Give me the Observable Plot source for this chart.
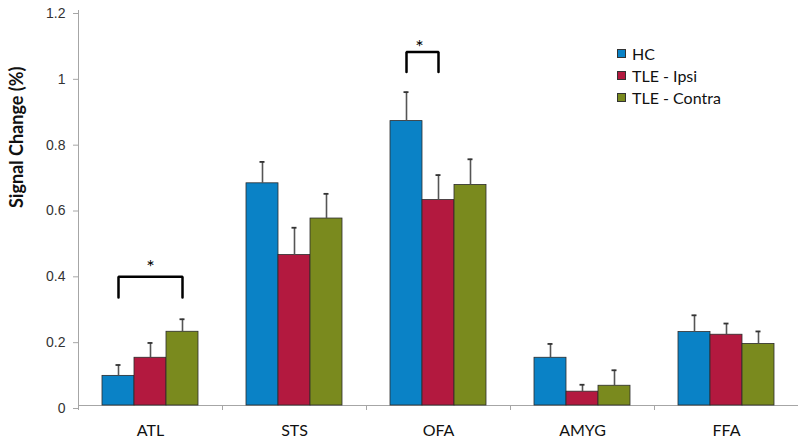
<!DOCTYPE html>
<html>
<head>
<meta charset="utf-8">
<script src="https://cdn.jsdelivr.net/npm/d3@7"></script>
<script src="https://cdn.jsdelivr.net/npm/@observablehq/plot@0.6"></script>
<style>
  html, body { margin: 0; padding: 0; background: #fff; }
  #wrap { position: relative; width: 800px; height: 441px; }
  #legend { position: absolute; left: 617px; top: 42px; font-family: Lato, "Open Sans", sans-serif; font-size: 16px; color: #111; }
  #legend .item { display: flex; align-items: center; height: 22px; }
  #legend .sw { width: 7px; height: 7px; border: 1px solid #333; margin-right: 6px; }
</style>
</head>
<body>
<div id="wrap"><div id="legend"></div></div>
<script>
const categories = ["ATL", "STS", "OFA", "AMYG", "FFA"];
const series = ["HC", "TLE - Ipsi", "TLE - Contra"];
const hcValues = [0.090, 0.675, 0.864, 0.145, 0.223];
const ipsiValues = [0.145, 0.457, 0.624, 0.042, 0.215];
const contraValues = [0.224, 0.568, 0.670, 0.060, 0.187];
const hcErrors = [0.033, 0.065, 0.088, 0.042, 0.051];
const ipsiErrors = [0.045, 0.083, 0.076, 0.021, 0.034];
const contraErrors = [0.038, 0.075, 0.078, 0.047, 0.038];
const yTicks = [0, 0.2, 0.4, 0.6, 0.8, 1, 1.2];
const yTickLabels = ["0", "0.2", "0.4", "0.6", "0.8", "1", "1.2"];
const seriesColors = ["#0a82c6", "#b3193f", "#7a8a1e"];
const yTitle = "Signal Change (%)";

// significance brackets
const bracketCategory = ["ATL", "OFA"];
const bracketFrom = ["HC", "HC"];
const bracketTo = ["TLE - Contra", "TLE - Ipsi"];
const bracketTop = [0.391, 1.074];
const bracketBottom = [0.328, 1.013];
const starCategory = ["ATL", "OFA"];
const starSeries = ["TLE - Ipsi", "HC"];
const starY = [0.420, 1.087];

const valueSets = [hcValues, ipsiValues, contraValues];
const errorSets = [hcErrors, ipsiErrors, contraErrors];
const rows = [];
categories.forEach((c, i) => series.forEach((s, j) => rows.push({cat: c, s, v: valueSets[j][i], e: errorSets[j][i]})));

const bracketPts = [];
bracketCategory.forEach((c, i) => {
  bracketPts.push({id: i, cat: c, s: bracketFrom[i], y: bracketBottom[i]});
  bracketPts.push({id: i, cat: c, s: bracketFrom[i], y: bracketTop[i]});
  bracketPts.push({id: i, cat: c, s: bracketTo[i], y: bracketTop[i]});
  bracketPts.push({id: i, cat: c, s: bracketTo[i], y: bracketBottom[i]});
});
const stars = starCategory.map((c, i) => ({cat: c, s: starSeries[i], y: starY[i]}));

const W = 800, H = 441, mt = 10, mb = 36, ml = 76, mr = 0;
const innerH = H - mt - mb;
const axisGray = "#a6a6a6";

const plot = Plot.plot({
  width: W, height: H,
  marginLeft: ml, marginRight: mr, marginTop: mt, marginBottom: mb,
  style: {fontFamily: "Lato, 'Open Sans', sans-serif", background: "#fff"},
  fx: {domain: categories, padding: 0, label: null},
  x: {domain: series, paddingInner: 0, paddingOuter: 0.745, axis: null},
  y: {domain: [0, 1.2], label: null},
  color: {domain: series, range: seriesColors},
  marks: [
    Plot.frame({anchor: "left", facetAnchor: "left", stroke: axisGray, insetBottom: -2}),
    Plot.frame({anchor: "left", stroke: axisGray, insetTop: innerH, insetBottom: -4}),
    Plot.ruleY([0], {stroke: axisGray}),
    Plot.axisY({ticks: yTicks, tickFormat: (d) => yTickLabels[yTicks.indexOf(d)], tickSize: 5, tickPadding: 8,
      stroke: axisGray, fill: "#333", fontSize: 14, fontFamily: "'Liberation Sans', Arial, sans-serif", dy: 3, label: null}),
    Plot.axisFx({anchor: "bottom", tickSize: 0, tickPadding: 19, fontSize: 16, fill: "#111", label: null}),
    Plot.barY(rows, {fx: "cat", x: "s", y: "v", fill: "s", stroke: "#2b2b2b", strokeWidth: 0.8}),
    Plot.ruleX(rows, {fx: "cat", x: "s", y1: "v", y2: (d) => d.v + d.e, stroke: "#555", strokeWidth: 1.6}),
    Plot.tickY(rows, {fx: "cat", x: "s", y: (d) => d.v + d.e, stroke: "#333", strokeWidth: 1.8, insetLeft: 13.5, insetRight: 13.5}),
    Plot.line(bracketPts, {fx: "cat", x: "s", y: "y", z: "id", stroke: "black", strokeWidth: 2.5, strokeLinejoin: "miter"}),
    Plot.text(stars.filter((d) => d.cat === "ATL"), {fx: "cat", x: "s", y: "y", text: () => "*", fontSize: 20, fill: "black"}),
    Plot.text(stars.filter((d) => d.cat === "OFA"), {fx: "cat", x: "s", y: "y", text: () => "*", fontSize: 20, fill: "black", dx: 13}),
    Plot.text([yTitle], {frameAnchor: "left", facetAnchor: "left", rotate: -90, dx: -61, fontSize: 18, fontWeight: "bold", fill: "#111"})
  ]
});

const wrap = document.getElementById("wrap");
wrap.insertBefore(plot, wrap.firstChild);

const legend = document.getElementById("legend");
const colorScale = plot.scale("color");
series.forEach((s, i) => {
  const item = document.createElement("div");
  item.className = "item";
  const sw = document.createElement("span");
  sw.className = "sw";
  sw.style.background = colorScale.range[i];
  const label = document.createElement("span");
  label.textContent = s;
  item.appendChild(sw);
  item.appendChild(label);
  legend.appendChild(item);
});
</script>
</body>
</html>
